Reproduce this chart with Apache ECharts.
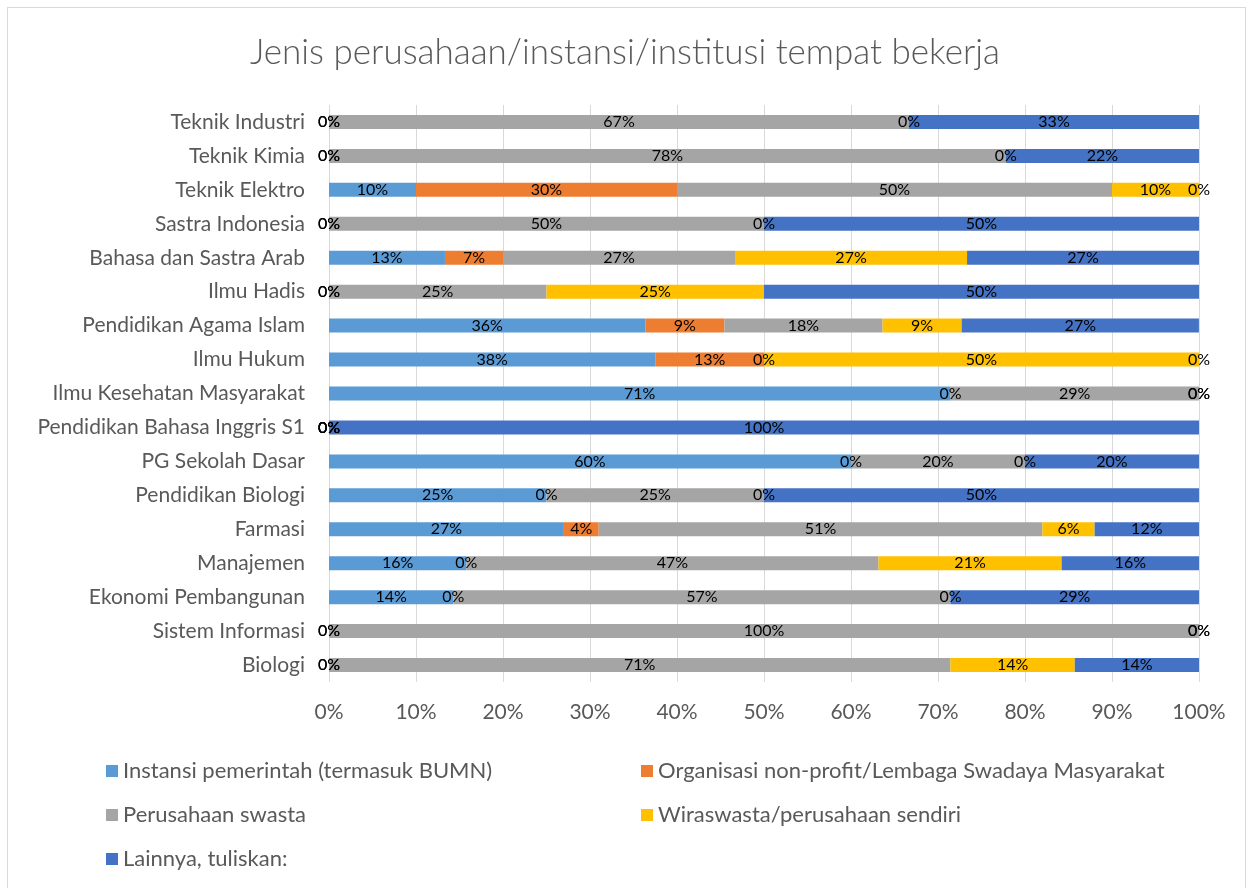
<!DOCTYPE html>
<html>
<head>
<meta charset="utf-8">
<script src="https://cdn.jsdelivr.net/npm/echarts@6/dist/echarts.min.js"></script>
<style>
  html, body { margin: 0; padding: 0; background: #fff; }
  #chart { width: 1250px; height: 888px; }
  .frame { position: absolute; left: 7px; top: 7px; width: 1237px; height: 890px; border: 1px solid #d9d9d9; pointer-events: none; }
</style>
</head>
<body>
<div id="chart"></div>
<div class="frame"></div>
<script>
// kategori dari bawah ke atas (urutan sumbu kategori ECharts)
const categories = ['Biologi', 'Sistem Informasi', 'Ekonomi Pembangunan', 'Manajemen', 'Farmasi',
  'Pendidikan Biologi', 'PG Sekolah Dasar', 'Pendidikan Bahasa Inggris S1', 'Ilmu Kesehatan Masyarakat',
  'Ilmu Hukum', 'Pendidikan Agama Islam', 'Ilmu Hadis', 'Bahasa dan Sastra Arab', 'Sastra Indonesia',
  'Teknik Elektro', 'Teknik Kimia', 'Teknik Industri']

const instansi   = [0, 0, 14.29, 15.79, 27, 25, 60, 0, 71.43, 37.5, 36.36, 0, 13.33, 0, 10, 0, 0]
const organisasi = [0, 0, 0, 0, 4, 0, 0, 0, 0, 12.5, 9.09, 0, 6.67, 0, 30, 0, 0]
const swasta     = [71.43, 100, 57.14, 47.37, 51, 25, 20, 0, 28.57, 0, 18.18, 25, 26.67, 50, 50, 77.78, 66.67]
const wiraswasta = [14.29, 0, 0, 21.05, 6, 0, 0, 0, 0, 50, 9.09, 25, 26.67, 0, 10, 0, 0]
const lainnya    = [14.29, 0, 28.57, 15.79, 12, 50, 20, 100, 0, 0, 27.27, 50, 26.67, 50, 0, 22.22, 33.33]

const xTicks = [0, 10, 20, 30, 40, 50, 60, 70, 80, 90, 100]

const seriesDefs = [
  ['Instansi pemerintah (termasuk BUMN)', instansi, '#5b9bd5'],
  ['Organisasi non-profit/Lembaga Swadaya Masyarakat', organisasi, '#ed7d31'],
  ['Perusahaan swasta', swasta, '#a5a5a5'],
  ['Wiraswasta/perusahaan sendiri', wiraswasta, '#ffc000'],
  ['Lainnya, tuliskan:', lainnya, '#4472c4']
]

const font = 'Lato, "Open Sans", sans-serif'
const grey = '#595959'

const chart = echarts.init(document.getElementById('chart'))
chart.setOption({
  animation: false,
  textStyle: { fontFamily: font },
  title: {
    text: 'Jenis perusahaan/instansi/institusi tempat bekerja',
    left: 'center',
    top: 30,
    textStyle: { fontFamily: font, fontSize: 35, fontWeight: 300, color: grey }
  },
  grid: { left: 329, right: 51, top: 105, bottom: 206, containLabel: false },
  xAxis: {
    type: 'value',
    min: 0,
    max: 100,
    interval: 10,
    axisLine: { show: false },
    axisTick: { show: false },
    splitLine: { lineStyle: { color: '#d9d9d9', width: 1 } },
    axisLabel: {
      fontSize: 21, color: grey, margin: 20,
      formatter: v => xTicks.includes(v) ? v + '%' : ''
    }
  },
  yAxis: {
    type: 'category',
    data: categories,
    axisLine: { show: false },
    axisTick: { show: false },
    axisLabel: { fontSize: 21, color: grey, margin: 24 }
  },
  legend: [
    {
      left: 101, top: 755, orient: 'vertical', itemGap: 22,
      itemWidth: 12, itemHeight: 12, icon: 'rect',
      textStyle: { fontSize: 22, color: grey },
      data: [seriesDefs[0][0], seriesDefs[2][0], seriesDefs[4][0]]
    },
    {
      left: 636, top: 755, orient: 'vertical', itemGap: 22,
      itemWidth: 12, itemHeight: 12, icon: 'rect',
      textStyle: { fontSize: 22, color: grey },
      data: [seriesDefs[1][0], seriesDefs[3][0]]
    }
  ],
  series: seriesDefs.map(([name, data, color]) => ({
    name,
    type: 'bar',
    stack: 'total',
    data,
    barWidth: 14,
    itemStyle: { color },
    label: {
      show: true,
      position: 'inside',
      fontSize: 16,
      color: '#000',
      formatter: p => Math.round(p.value) + '%'
    }
  }))
})
</script>
</body>
</html>
